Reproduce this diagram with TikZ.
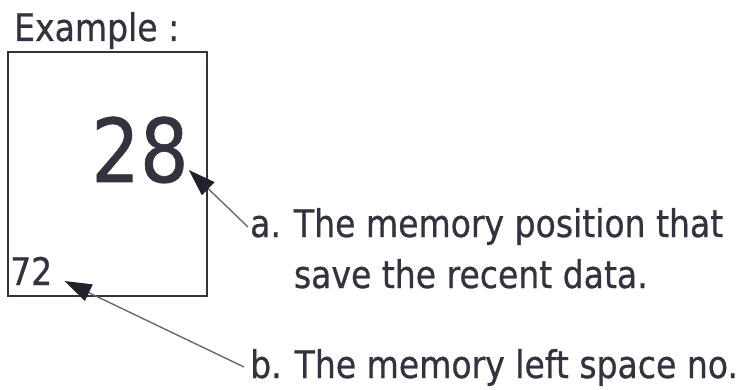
\documentclass[tikz,border=0pt]{standalone}
\usepackage{fontspec}
\setmainfont[FakeStretch=0.87, FakeBold=0.7]{DejaVu Sans}
\usetikzlibrary{arrows.meta, calc}

\definecolor{inkgray}{RGB}{52,50,62}
\definecolor{linegray}{RGB}{105,105,112}
\definecolor{headgray}{RGB}{36,32,44}

\begin{document}
\begin{tikzpicture}[x=1pt, y=-1pt]

  % Define styles
  \tikzset{
    cell/.style={draw=inkgray, line width=2.2pt, inner sep=0pt,
      minimum width=199pt, minimum height=244pt},
    title/.style={font=\fontsize{38}{46}\selectfont, text=inkgray, inner sep=0pt},
    big num/.style={font=\fontsize{88}{100}\selectfont, text=inkgray, inner sep=0pt},
    small num/.style={font=\fontsize{38}{46}\selectfont, text=inkgray, inner sep=0pt},
    note/.style={font=\fontsize{38}{51}\selectfont, text=inkgray, inner sep=0pt},
    pointer/.style={-{Triangle[length=27pt,width=18pt,color=headgray]},
      line width=1.4pt, draw=linegray}
  }

  \useasboundingbox (0,0) rectangle (738,390);

  %% Memory cell
  \node[title, anchor=base west] (title) at (14,41) {Example :};
  \node[cell] (cell) at (107.5,174) {};
  \node[big num, anchor=base west] (num) at (91,182) {28};
  \node[small num, anchor=base west] (left) at (10,285) {72};

  %% Notes
  \node[note, anchor=base west] (la) at (250,237)
    {\begin{tabular}[t]{@{}l@{\hspace{13pt}}l@{}}
      a. & The memory position that\\
         & save the recent data.
    \end{tabular}};
  \node[note, anchor=base west] (lb) at (250,378)
    {\begin{tabular}[t]{@{}l@{\hspace{13pt}}l@{}}
      b. & The memory left space no.
    \end{tabular}};

  % Pointer ends
  \coordinate (atail) at ([shift={(-2pt,10pt)}]la.base west);
  \coordinate (atip)  at ([shift={(0pt,12pt)}]num.base east);
  \coordinate (btail) at ([shift={(-6pt,11pt)}]lb.base west);
  \coordinate (btip)  at ([shift={(12pt,4pt)}]left.base east);

  \draw[pointer] (atail) -- (atip);
  \draw[pointer] (btail) -- (btip);

\end{tikzpicture}
\end{document}
